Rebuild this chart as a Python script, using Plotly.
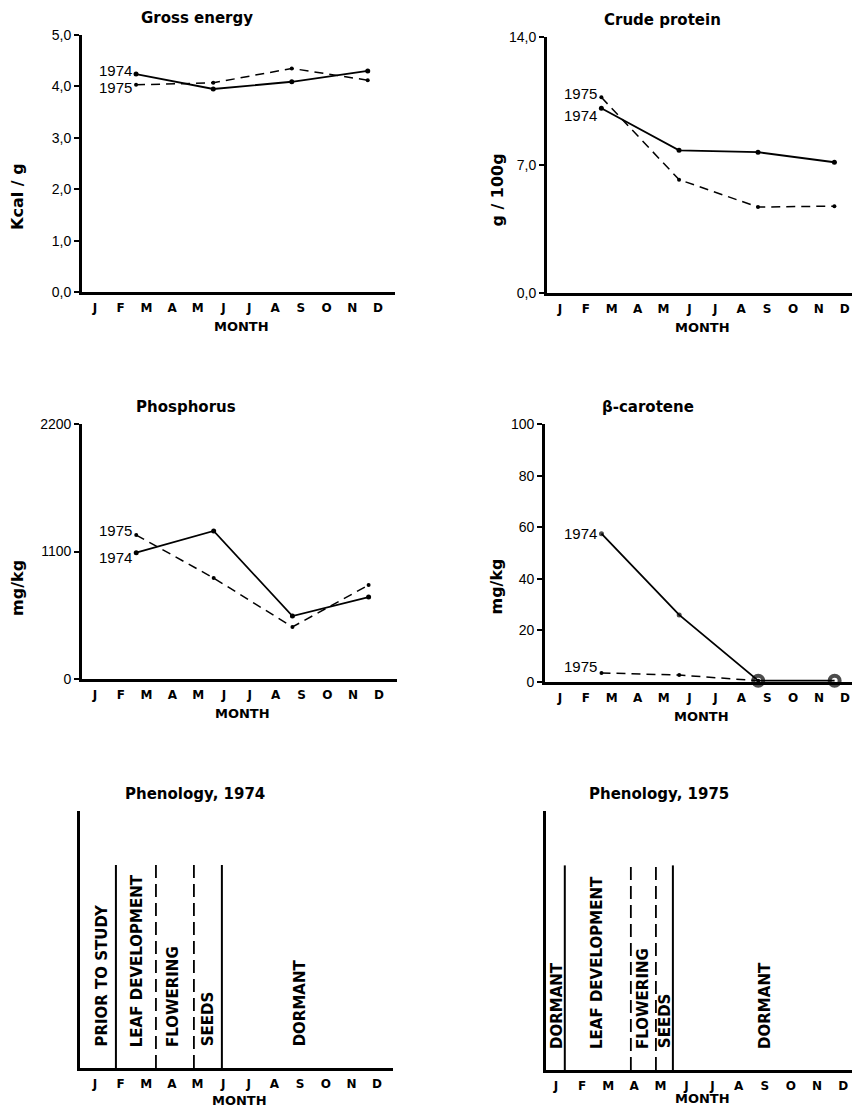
import plotly.graph_objects as go

# ---------------- data ----------------
months = ["J", "F", "M", "A", "M", "J", "J", "A", "S", "O", "N", "D"]
month_pos = list(range(12))
sample_month = [1.6, 4.6, 7.65, 10.6]

energy_1974 = [4.24, 3.95, 4.09, 4.30]
energy_1975 = [4.03, 4.07, 4.35, 4.12]
energy_ticks = [0, 1, 2, 3, 4, 5]
energy_ticktext = ["0,0", "1,0", "2,0", "3,0", "4,0", "5,0"]

protein_1974 = [10.1, 7.8, 7.7, 7.15]
protein_1975 = [10.7, 6.2, 4.7, 4.75]
protein_ticks = [0, 7, 14]
protein_ticktext = ["0,0", "7,0", "14,0"]

phosphorus_1974 = [1090, 1277, 543, 707]
phosphorus_1975 = [1242, 871, 449, 811]
phosphorus_ticks = [0, 1100, 2200]
phosphorus_ticktext = ["0", "1100", "2200"]

carotene_1974 = [57.5, 26.0, 0.5, 0.5]
carotene_1975 = [3.5, 2.7, 0.5, None]
carotene_ticks = [0, 20, 40, 60, 80, 100]
carotene_ticktext = ["0", "20", "40", "60", "80", "100"]

phen74_bounds = [0.82, 2.38, 3.86, 4.95]
phen74_dash = ["solid", "dash", "dash", "solid"]
phen74_labels = ["PRIOR TO STUDY", "LEAF DEVELOPMENT", "FLOWERING", "SEEDS", "DORMANT"]
phen74_label_x = [0.27, 1.64, 3.04, 4.41, 8.0]

phen75_bounds = [0.34, 2.87, 3.83, 4.48]
phen75_dash = ["solid", "dash", "dash", "solid"]
phen75_labels = ["DORMANT", "LEAF DEVELOPMENT", "FLOWERING", "SEEDS", "DORMANT"]
phen75_label_x = [0.04, 1.57, 3.33, 4.18, 8.0]

phen_line_top = 0.79

# ---------------- layout helpers ----------------
W, H = 852, 1107
# pixel boxes: left, right, top, bottom
boxes = {
    1: (82, 395, 35, 292),
    2: (547, 852, 37, 293),
    3: (82, 397, 424, 679),
    4: (545, 852, 424, 682),
    5: (80, 393, 811, 1068),
    6: (546, 852, 811, 1070),
}
xranges = {1: [-0.5, 11.66], 2: [-0.5, 11.28], 3: [-0.5, 11.7],
           4: [-0.58, 11.27], 5: [-0.58, 11.62], 6: [-0.38, 11.34]}

BOLD = "DejaVu Sans"
NUM = "Liberation Sans"

fig = go.Figure()
layout = dict(width=W, height=H, margin=dict(l=0, r=0, t=0, b=0, pad=0, autoexpand=False),
              paper_bgcolor="white", plot_bgcolor="white", showlegend=False)
annotations = []


def ax_names(n):
    return ("x" if n == 1 else f"x{n}"), ("y" if n == 1 else f"y{n}")


def setup_axes(n, yrange, tickvals=None, ticktext=None, yticks=True):
    l, r, t, b = boxes[n]
    xk = "xaxis" if n == 1 else f"xaxis{n}"
    yk = "yaxis" if n == 1 else f"yaxis{n}"
    xa, ya = ax_names(n)
    layout[xk] = dict(domain=[l / W, r / W], range=xranges[n], anchor=ya,
                      automargin=False,
                      showline=True, linewidth=2.5, linecolor="black",
                      showgrid=False, zeroline=False, ticks="outside",
                      ticklen=3, tickcolor="rgba(0,0,0,0)",
                      tickvals=month_pos, ticktext=months,
                      tickfont=dict(family=BOLD, size=12, color="black", weight="bold"),
                      fixedrange=True)
    yd = dict(domain=[1 - b / H, 1 - t / H], range=yrange, anchor=xa,
              automargin=False,
              showline=True, linewidth=2.8, linecolor="black",
              showgrid=False, zeroline=False, fixedrange=True)
    if yticks:
        yd.update(ticks="outside", ticklen=5, tickwidth=1.5, tickcolor="black",
                  tickvals=tickvals, ticktext=ticktext,
                  tickfont=dict(family=NUM, size=14, color="black"))
    else:
        yd.update(ticks="", showticklabels=False)
    layout[yk] = yd


def panel_text(n, title, title_x, ytitle=None, ytitle_shift=0, ytitle_y=0.37,
               month_shift=-34):
    xa, ya = ax_names(n)
    annotations.append(dict(text=title, xref=f"{xa} domain", yref=f"{ya} domain",
                            x=title_x, y=1, yshift=17, yanchor="middle", xanchor="center",
                            showarrow=False,
                            font=dict(family=BOLD, size=15, color="black", weight="bold")))
    annotations.append(dict(text="MONTH", xref=f"{xa} domain", yref=f"{ya} domain",
                            x=0.51, y=0, yshift=month_shift, yanchor="middle",
                            xanchor="center", showarrow=False,
                            font=dict(family=BOLD, size=13, color="black", weight="bold")))
    if ytitle:
        annotations.append(dict(text=ytitle, xref=f"{xa} domain", yref=f"{ya} domain",
                                x=0, xshift=ytitle_shift, y=ytitle_y, textangle=-90,
                                xanchor="center", yanchor="middle", showarrow=False,
                                font=dict(family=BOLD, size=16, color="black", weight="bold")))


def add_series(n, y74, y75, lab74_shift, lab75_shift, sizes74=None, open74=None):
    xa, ya = ax_names(n)
    m74 = dict(size=sizes74 or 5, color="black")
    if open74:
        m74["symbol"] = open74
        m74["line"] = dict(width=[0 if s == "circle" else 4 for s in open74],
                           color="black")
    fig.add_trace(go.Scatter(x=sample_month, y=y74, xaxis=xa, yaxis=ya,
                             mode="lines+markers",
                             line=dict(color="black", width=1.8),
                             marker=m74, cliponaxis=False))
    fig.add_trace(go.Scatter(x=sample_month, y=y75, xaxis=xa, yaxis=ya,
                             mode="lines+markers",
                             line=dict(color="black", width=1.5, dash="9px,6px"),
                             marker=dict(size=4, color="black"), cliponaxis=False))
    for yr, ys, sh in (("1974", y74, lab74_shift), ("1975", y75, lab75_shift)):
        annotations.append(dict(text=yr, x=sample_month[0], y=ys[0], xref=xa, yref=ya,
                                xanchor="right", yanchor="middle", xshift=-2, yshift=sh,
                                showarrow=False,
                                font=dict(family=NUM, size=15, color="black")))


# panel 1: gross energy
setup_axes(1, [0, 5.0], energy_ticks, energy_ticktext)
add_series(1, energy_1974, energy_1975, 4, -3)
panel_text(1, "Gross energy", 0.367, "Kcal / g", -64, 0.37)

# panel 2: crude protein
setup_axes(2, [0, 14.0], protein_ticks, protein_ticktext)
add_series(2, protein_1974, protein_1975, -7, 4)
panel_text(2, "Crude protein", 0.38, "g / 100g", -49, 0.40)

# panel 3: phosphorus
setup_axes(3, [0, 2200], phosphorus_ticks, phosphorus_ticktext)
add_series(3, phosphorus_1974, phosphorus_1975, -5, 5)
panel_text(3, "Phosphorus", 0.33, "mg/kg", -64, 0.357)

# panel 4: beta-carotene
setup_axes(4, [0, 100], carotene_ticks, carotene_ticktext)
add_series(4, carotene_1974, carotene_1975, 0, 6,
           sizes74=[5, 5, 10, 10], open74=["circle", "circle", "circle-open", "circle-open"])
panel_text(4, "β-carotene", 0.335, "mg/kg", -48, 0.37)


# phenology panels
def phenology(n, bounds, dashes, labels, label_x, title, title_x, month_shift):
    xa, ya = ax_names(n)
    setup_axes(n, [0, 1], yticks=False)
    for bx, ds in zip(bounds, dashes):
        fig.add_trace(go.Scatter(x=[bx, bx], y=[0, phen_line_top], xaxis=xa, yaxis=ya,
                                 mode="lines",
                                 line=dict(color="black",
                                           width=2 if ds == "solid" else 1.8,
                                           dash="solid" if ds == "solid" else "13px,6px")))
    for lab, lx in zip(labels, label_x):
        annotations.append(dict(text=lab, x=lx, y=0.075, xref=xa, yref=ya,
                                textangle=-90, yanchor="bottom", xanchor="center",
                                showarrow=False,
                                font=dict(family=BOLD, size=15, color="black", weight="bold")))
    panel_text(n, title, title_x, month_shift=month_shift)


phenology(5, phen74_bounds, phen74_dash, phen74_labels, phen74_label_x,
          "Phenology, 1974", 0.367, -32)
phenology(6, phen75_bounds, phen75_dash, phen75_labels, phen75_label_x,
          "Phenology, 1975", 0.37, -28)

layout["annotations"] = annotations
fig.update_layout(**layout)
fig.write_html("out.html")
